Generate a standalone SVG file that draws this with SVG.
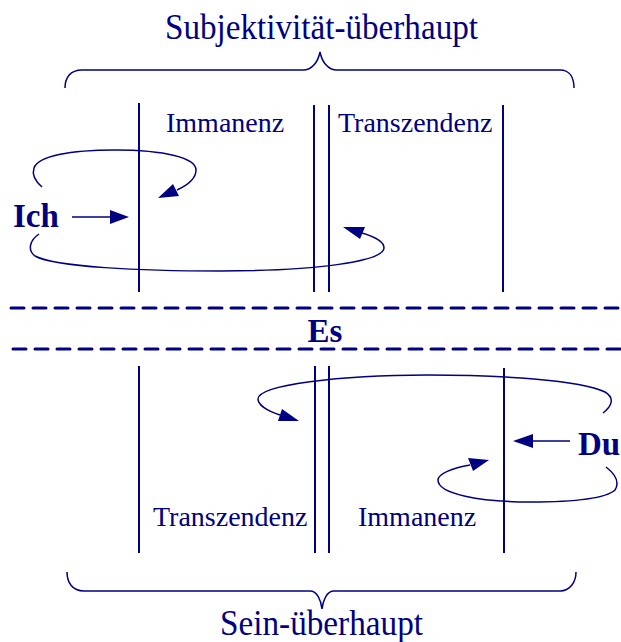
<svg xmlns="http://www.w3.org/2000/svg" width="621" height="642" viewBox="0 0 621 642">
<style>
.bg{fill:#ffffff}
.t{font-family:"Liberation Serif","Times New Roman",serif;fill:#000080}
.big{font-size:35px}
.mid{font-size:28px}
.bold{font-size:33px;font-weight:bold}
.vl{stroke:#000080;stroke-width:2;fill:none}
.loop{stroke:#000080;stroke-width:1.5;fill:none}
.brace{stroke:#000080;stroke-width:1.5;fill:none}
.dash{stroke:#000080;stroke-width:3;stroke-dasharray:13 9;stroke-linecap:round;fill:none}
.head{fill:#000080}
</style>
<rect class="bg" x="0" y="0" width="621" height="642"/>
<g id="subjektivitaet">
<text class="t big" x="165" y="39" textLength="313" lengthAdjust="spacingAndGlyphs">Subjektivität-überhaupt</text>
<path class="brace" d="M65,88 C65,78 70,70 82,70 L303,70 C312,70 318,62 320,52 C322,62 328,70 337,70 L560,70 C570,70 574,78 574,88"/>
</g>
<g id="oben">
<line class="vl" x1="139" y1="103" x2="139" y2="292"/>
<line class="vl" x1="314" y1="105" x2="314" y2="292"/>
<line class="vl" x1="329" y1="105" x2="329" y2="292"/>
<line class="vl" x1="503" y1="105" x2="503" y2="292"/>
<text class="t mid" x="166" y="132">Immanenz</text>
<text class="t mid" x="338" y="132">Transzendenz</text>
</g>
<g id="ich">
<text class="t bold" x="13" y="227">Ich</text>
</g>
<g id="es">
<line class="dash" x1="11" y1="308" x2="625" y2="308"/>
<text class="t bold" x="325" y="342" text-anchor="middle">Es</text>
<line class="dash" x1="13" y1="349" x2="625" y2="349"/>
</g>
<g id="unten">
<line class="vl" x1="139" y1="366" x2="139" y2="553"/>
<line class="vl" x1="315" y1="366" x2="315" y2="553"/>
<line class="vl" x1="329" y1="366" x2="329" y2="553"/>
<line class="vl" x1="504" y1="368" x2="504" y2="553"/>
<text class="t mid" x="153" y="526">Transzendenz</text>
<text class="t mid" x="358" y="526">Immanenz</text>
</g>
<g id="du">
<text class="t bold" x="578" y="455">Du</text>
</g>
<g id="sein">
<path class="brace" d="M67,572 C67,582 72,591 84,591 L310,591 C317,591 321,600 322,609 C323,600 327,591 334,591 L560,591 C570,591 576,582 576,572"/>
<text class="t big" x="220" y="635" textLength="203" lengthAdjust="spacingAndGlyphs">Sein-überhaupt</text>
</g>
<g id="connectors">
<line class="loop" x1="72" y1="217" x2="111" y2="217"/>
<polygon class="head" points="129,217 110,210 110,224"/>
<path class="loop" d="M42,187 C34,180 32,174 34,168 C38,156 70,150 115,150 C165,150 196,158 196,170 C196,178 190,184 177,190"/>
<polygon class="head" points="158,198 173,184 179,196"/>
<path class="loop" d="M39,234 C30,240 27,250 35,256 C55,267 140,271 220,271 C318,271 384,261 384,248 C384,242 376,237 362,233"/>
<polygon class="head" points="343,227 365,227 360,239"/>
<line class="loop" x1="532" y1="441" x2="570" y2="441"/>
<polygon class="head" points="513,441 533,434 533,448"/>
<path class="loop" d="M603,413 C612,406 615,398 605,392 C580,380 500,375 427,375 C340,375 258,385 258,399 C258,405 268,411 280,415"/>
<polygon class="head" points="299,421 282,409 278,421"/>
<path class="loop" d="M606,467 C615,474 620,482 615,490 C605,499 570,502 530,502 C480,502 438,494 438,480 C438,474 452,468 470,465"/>
<polygon class="head" points="489,460 468,458 473,471"/>
</g>
</svg>
